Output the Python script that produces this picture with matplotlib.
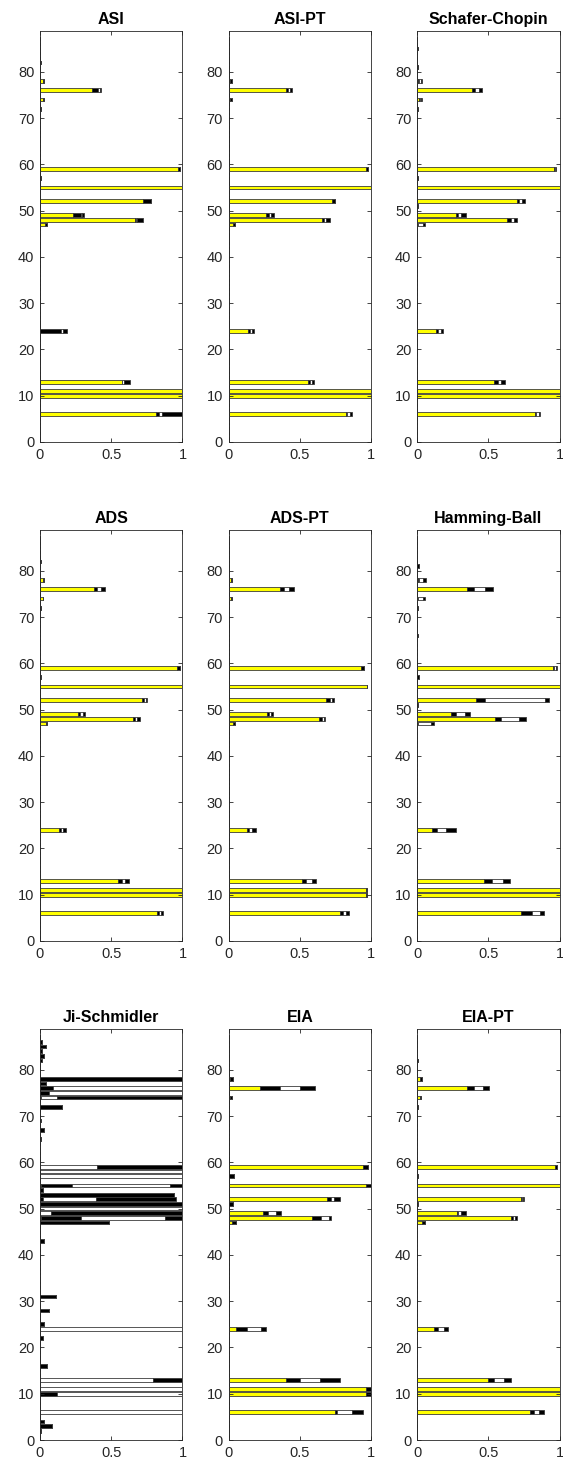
import matplotlib
matplotlib.use("Agg")
import matplotlib.pyplot as plt
import numpy as np

plt.rcParams["font.family"] = ["Liberation Sans", "DejaVu Sans"]

# number of inclusion indicators per model
N_VARS = 87

# boundaries (a, b, c, d) of the stacked bar for each indicator:
# yellow 0..a, black a..b, white b..c, black c..d
ASI = {
    6: (0.815, 0.838, 0.857, 1.0), 10: (1.0, 1.0, 1.0, 1.0), 11: (1.0, 1.0, 1.0, 1.0),
    13: (0.572, 0.578, 0.586, 0.635), 24: (0.0, 0.148, 0.164, 0.187),
    47: (0.035, 0.047, 0.047, 0.047), 48: (0.667, 0.672, 0.68, 0.726),
    49: (0.234, 0.29, 0.298, 0.31), 52: (0.726, 0.777, 0.777, 0.777),
    55: (1.0, 1.0, 1.0, 1.0), 57: (0.0, 0.01, 0.01, 0.01), 59: (0.965, 0.983, 0.983, 0.983),
    72: (0.0, 0.005, 0.005, 0.005), 74: (0.019, 0.026, 0.026, 0.026),
    76: (0.368, 0.41, 0.42, 0.43), 78: (0.019, 0.026, 0.026, 0.026),
    82: (0.0, 0.005, 0.005, 0.005),
}
ASI_PT = {
    5: (0.0, 0.004, 0.004, 0.004),
    6: (0.825, 0.832, 0.853, 0.865), 10: (1.0, 1.0, 1.0, 1.0), 11: (1.0, 1.0, 1.0, 1.0),
    13: (0.559, 0.573, 0.587, 0.597), 24: (0.138, 0.154, 0.168, 0.177),
    47: (0.033, 0.047, 0.047, 0.047), 48: (0.657, 0.671, 0.685, 0.709),
    49: (0.261, 0.284, 0.296, 0.317), 52: (0.723, 0.746, 0.746, 0.746),
    55: (1.0, 1.0, 1.0, 1.0), 57: (0.0, 0.006, 0.006, 0.006), 59: (0.965, 0.979, 0.979, 0.979),
    72: (0.0, 0.005, 0.005, 0.005), 74: (0.012, 0.023, 0.023, 0.023),
    76: (0.403, 0.415, 0.429, 0.445), 78: (0.014, 0.028, 0.028, 0.028),
    82: (0.0, 0.005, 0.005, 0.005), 86: (0.0, 0.004, 0.004, 0.004),
}
SCHAFER_CHOPIN = {
    6: (0.827, 0.836, 0.855, 0.866), 10: (1.0, 1.0, 1.0, 1.0), 11: (1.0, 1.0, 1.0, 1.0),
    13: (0.543, 0.566, 0.589, 0.617), 24: (0.134, 0.15, 0.166, 0.18),
    47: (0.005, 0.01, 0.045, 0.057), 48: (0.635, 0.658, 0.681, 0.704),
    49: (0.273, 0.291, 0.309, 0.346), 51: (0.0, 0.008, 0.008, 0.008),
    52: (0.70, 0.716, 0.739, 0.755), 55: (1.0, 1.0, 1.0, 1.0),
    57: (0.0, 0.01, 0.01, 0.01), 59: (0.958, 0.97, 0.972, 0.977),
    72: (0.0, 0.01, 0.01, 0.01), 74: (0.012, 0.018, 0.026, 0.032),
    76: (0.386, 0.409, 0.434, 0.457), 78: (0.005, 0.015, 0.025, 0.037),
    81: (0.0, 0.01, 0.01, 0.01), 85: (0.0, 0.005, 0.005, 0.005),
}
ADS = {
    6: (0.82, 0.834, 0.848, 0.866), 10: (1.0, 1.0, 1.0, 1.0), 11: (1.0, 1.0, 1.0, 1.0),
    13: (0.546, 0.574, 0.593, 0.623), 24: (0.136, 0.148, 0.164, 0.18),
    47: (0.042, 0.047, 0.047, 0.047), 48: (0.656, 0.67, 0.684, 0.703),
    49: (0.269, 0.281, 0.30, 0.314), 52: (0.719, 0.733, 0.742, 0.754),
    55: (1.0, 1.0, 1.0, 1.0), 57: (0.0, 0.006, 0.006, 0.006), 59: (0.96, 0.979, 0.979, 0.979),
    72: (0.0, 0.005, 0.005, 0.005), 74: (0.019, 0.023, 0.023, 0.023),
    76: (0.379, 0.403, 0.426, 0.457), 78: (0.019, 0.028, 0.028, 0.028),
    82: (0.0, 0.005, 0.005, 0.005),
}
ADS_PT = {
    6: (0.779, 0.807, 0.825, 0.844), 10: (0.965, 0.972, 0.972, 0.972),
    11: (0.965, 0.972, 0.972, 0.972), 13: (0.517, 0.545, 0.587, 0.611),
    24: (0.131, 0.145, 0.163, 0.196), 47: (0.033, 0.047, 0.047, 0.047),
    48: (0.634, 0.653, 0.667, 0.678), 49: (0.27, 0.284, 0.298, 0.312),
    51: (0.0, 0.005, 0.005, 0.005),
    52: (0.685, 0.709, 0.723, 0.737), 55: (0.97, 0.975, 0.975, 0.975),
    57: (0.0, 0.006, 0.006, 0.006), 59: (0.932, 0.951, 0.951, 0.951),
    72: (0.0, 0.005, 0.005, 0.005), 74: (0.019, 0.023, 0.023, 0.023),
    76: (0.364, 0.387, 0.424, 0.457), 78: (0.019, 0.028, 0.028, 0.028),
    82: (0.0, 0.005, 0.005, 0.005),
}
HAMMING_BALL = {
    6: (0.727, 0.804, 0.864, 0.894), 10: (1.0, 1.0, 1.0, 1.0), 11: (1.0, 1.0, 1.0, 1.0),
    13: (0.473, 0.527, 0.605, 0.651), 24: (0.104, 0.139, 0.203, 0.277),
    47: (0.005, 0.01, 0.097, 0.122), 48: (0.547, 0.589, 0.716, 0.762),
    49: (0.242, 0.277, 0.339, 0.374), 51: (0.0, 0.01, 0.01, 0.01),
    52: (0.411, 0.48, 0.896, 0.924), 55: (1.0, 1.0, 1.0, 1.0),
    57: (0.0, 0.012, 0.012, 0.012), 59: (0.956, 0.962, 0.972, 0.98),
    66: (0.0, 0.005, 0.005, 0.005), 72: (0.0, 0.008, 0.008, 0.008),
    74: (0.005, 0.01, 0.045, 0.055), 76: (0.351, 0.397, 0.48, 0.531),
    78: (0.005, 0.012, 0.045, 0.062), 81: (0.0, 0.015, 0.015, 0.015),
}
JI_SCHMIDLER = {
    2: (0.0, 0.005, 0.005, 0.005), 3: (0.0, 0.082, 0.082, 0.082), 4: (0.0, 0.025, 0.025, 0.025),
    6: (0.0, 0.0, 1.0, 1.0), 10: (0.0, 0.12, 1.0, 1.0), 11: (0.0, 0.0, 1.0, 1.0),
    13: (0.0, 0.0, 0.79, 1.0), 16: (0.0, 0.05, 0.05, 0.05), 22: (0.0, 0.022, 0.022, 0.022),
    24: (0.0, 0.0, 1.0, 1.0), 25: (0.0, 0.026, 0.026, 0.026), 28: (0.0, 0.062, 0.062, 0.062),
    31: (0.0, 0.11, 0.11, 0.11), 43: (0.0, 0.026, 0.026, 0.026),
    47: (0.0, 0.484, 0.484, 0.484), 48: (0.005, 0.29, 0.876, 1.0),
    49: (0.0, 0.0, 0.08, 1.0), 50: (0.0, 0.0, 1.0, 1.0), 51: (0.0, 1.0, 1.0, 1.0),
    52: (0.0, 0.02, 0.394, 0.953), 53: (0.0, 0.94, 0.94, 0.94),
    54: (0.0, 0.02, 0.02, 0.02), 55: (0.01, 0.225, 0.915, 1.0),
    57: (0.0, 0.0, 1.0, 1.0), 58: (0.0, 0.0, 1.0, 1.0), 59: (0.0, 0.0, 0.4, 1.0),
    65: (0.0, 0.005, 0.005, 0.005), 67: (0.0, 0.028, 0.028, 0.028),
    69: (0.0, 0.008, 0.008, 0.008), 72: (0.0, 0.155, 0.155, 0.155),
    74: (0.0, 0.01, 0.12, 1.0), 75: (0.0, 0.063, 1.0, 1.0), 76: (0.0, 0.094, 1.0, 1.0),
    77: (0.0, 0.04, 0.04, 0.04), 78: (0.0, 1.0, 1.0, 1.0),
    82: (0.0, 0.015, 0.015, 0.015), 83: (0.0, 0.028, 0.028, 0.028),
    84: (0.0, 0.012, 0.012, 0.012), 85: (0.0, 0.04, 0.04, 0.04), 86: (0.0, 0.012, 0.012, 0.012),
}
EIA = {
    6: (0.744, 0.762, 0.867, 0.946), 10: (0.965, 1.0, 1.0, 1.0), 11: (0.965, 1.0, 1.0, 1.0),
    13: (0.401, 0.499, 0.639, 0.779), 24: (0.051, 0.131, 0.231, 0.261),
    47: (0.028, 0.056, 0.056, 0.056), 48: (0.587, 0.65, 0.704, 0.716),
    49: (0.242, 0.277, 0.331, 0.371), 51: (0.0, 0.033, 0.033, 0.033),
    52: (0.69, 0.72, 0.737, 0.779), 55: (0.965, 1.0, 1.0, 1.0),
    57: (0.0, 0.04, 0.04, 0.04), 59: (0.942, 0.981, 0.981, 0.981),
    72: (0.0, 0.005, 0.005, 0.005), 74: (0.014, 0.026, 0.026, 0.026),
    76: (0.224, 0.364, 0.503, 0.604), 78: (0.014, 0.033, 0.033, 0.033),
    82: (0.0, 0.005, 0.005, 0.005),
}
EIA_PT = {
    6: (0.791, 0.819, 0.856, 0.888), 10: (1.0, 1.0, 1.0, 1.0), 11: (1.0, 1.0, 1.0, 1.0),
    13: (0.50, 0.542, 0.609, 0.658), 24: (0.116, 0.144, 0.186, 0.216),
    47: (0.035, 0.053, 0.053, 0.053), 48: (0.658, 0.674, 0.691, 0.705),
    49: (0.279, 0.291, 0.309, 0.342), 51: (0.0, 0.008, 0.008, 0.008),
    52: (0.728, 0.737, 0.744, 0.749), 55: (1.0, 1.0, 1.0, 1.0),
    57: (0.0, 0.008, 0.008, 0.008), 59: (0.965, 0.984, 0.984, 0.984),
    72: (0.0, 0.005, 0.005, 0.005), 74: (0.019, 0.03, 0.03, 0.03),
    76: (0.349, 0.402, 0.465, 0.505), 78: (0.019, 0.033, 0.033, 0.033),
    82: (0.0, 0.006, 0.006, 0.006),
}

TITLES = ["ASI", "ASI-PT", "Schafer-Chopin",
          "ADS", "ADS-PT", "Hamming-Ball",
          "Ji-Schmidler", "EIA", "EIA-PT"]
RESULTS = [ASI, ASI_PT, SCHAFER_CHOPIN,
           ADS, ADS_PT, HAMMING_BALL,
           JI_SCHMIDLER, EIA, EIA_PT]

SEG_COLORS = ["#ffff00", "#000000", "#ffffff", "#000000"]
AX_COLOR = "#262626"

W, H = 563, 1464
fig = plt.figure(figsize=(W / 100, H / 100), dpi=100)

col_left = [40, 228.5, 417]
row_bottom = [442, 941, 1440]
ax_w, ax_h = 142.5, 411

idx = np.arange(1, N_VARS + 1)

for k, (title, res) in enumerate(zip(TITLES, RESULTS)):
    r, c = divmod(k, 3)
    ax = fig.add_axes([col_left[c] / W, 1 - row_bottom[r] / H, ax_w / W, ax_h / H])

    bounds = np.zeros((N_VARS, 4))
    for j, q in res.items():
        bounds[j - 1] = q
    # stacked segments: each segment starts where the previous one ends
    starts = np.hstack([np.zeros((N_VARS, 1)), bounds[:, :3]])
    for s in range(4):
        ax.barh(idx, bounds[:, s] - starts[:, s], left=starts[:, s], height=0.8,
                color=SEG_COLORS[s], edgecolor="#3a3a3a", linewidth=0.6)

    ax.set_xlim(0, 1)
    ax.set_ylim(0, 88.8)
    ax.set_xticks([0, 0.5, 1])
    ax.set_xticklabels(["0", "0.5", "1"])
    ax.set_yticks(np.arange(0, 81, 10))
    ax.tick_params(direction="in", top=True, right=True, length=3, width=0.6,
                   colors=AX_COLOR, labelsize=10.5, pad=4)
    for sp in ax.spines.values():
        sp.set_color(AX_COLOR)
        sp.set_linewidth(0.6)
    ax.set_title(title, fontsize=11.5, fontweight="bold", pad=5)

fig.savefig("out.png", dpi=100)
